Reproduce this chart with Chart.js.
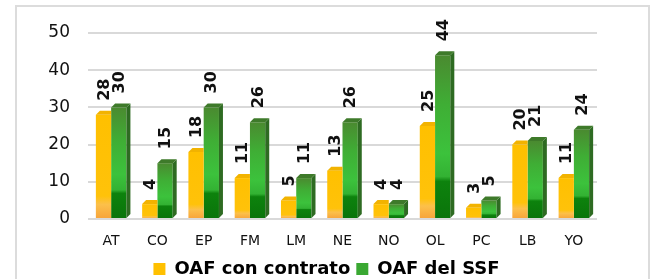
<!DOCTYPE html>
<html>
<head>
<meta charset="utf-8">
<script src="https://cdn.jsdelivr.net/npm/chart.js@4/dist/chart.umd.min.js"></script>
<style>
    html, body { margin: 0; padding: 0; background: #fff; }
    #wrap { position: relative; width: 653px; height: 279px; }
</style>
</head>
<body>
<div id="wrap"><canvas id="chart" width="653" height="279"></canvas></div>
<script>
// dati
const categorie = ['AT', 'CO', 'EP', 'FM', 'LM', 'NE', 'NO', 'OL', 'PC', 'LB', 'YO'];
const conContratto = [28, 4, 18, 11, 5, 13, 4, 25, 3, 20, 11];
const delSSF = [30, 15, 30, 26, 11, 26, 4, 44, 5, 21, 24];
const tickY = [0, 10, 20, 30, 40, 50];

const FONT = '"DejaVu Sans", "Noto Sans", sans-serif';
const DEPTH = 4;

// gradiente per ogni barra (effetto 3D)
const barGradient = (ctx, stops) => {
    const chart = ctx.chart;
    if (!chart.chartArea || ctx.type !== 'data') return stops[0][1];
    const y = chart.scales.y;
    const top = y.getPixelForValue(ctx.parsed.y);
    const base = y.getPixelForValue(0);
    if (base - top < 1) return stops[0][1];
    const g = chart.ctx.createLinearGradient(0, top, 0, base);
    stops.forEach(s => g.addColorStop(s[0], s[1]));
    return g;
};

const yellowStops = [[0, '#ffc000'], [0.78, '#ffc20a'], [0.86, '#fcc04a'], [1, '#f7a33a']];
const greenStops = [[0, '#4a8a30'], [0.3, '#3fae35'], [0.6, '#3cc23c'], [0.74, '#33b233'], [0.77, '#0d820d'], [1, '#0a740a']];

const poly = (c, pts, color) => {
    c.fillStyle = color;
    c.beginPath();
    pts.forEach((p, i) => i ? c.lineTo(p[0], p[1]) : c.moveTo(p[0], p[1]));
    c.closePath();
    c.fill();
};

// facce laterali/superiori ed etichette
const bar3d = {
    id: 'bar3d',
    afterDatasetsDraw(chart) {
        const c = chart.ctx;
        c.save();
        // gialle: solo la faccia superiore, fino al bordo destro
        chart.getDatasetMeta(0).data.forEach(bar => {
            const w = bar.width / 2;
            poly(c, [[bar.x - w, bar.y], [bar.x - w + DEPTH, bar.y - DEPTH], [bar.x + w, bar.y - DEPTH], [bar.x + w, bar.y]], '#f2b300');
        });
        // verdi: faccia laterale e superiore
        chart.getDatasetMeta(1).data.forEach(bar => {
            const w = bar.width / 2;
            poly(c, [[bar.x + w, bar.y], [bar.x + w + DEPTH, bar.y - DEPTH], [bar.x + w + DEPTH, bar.base - DEPTH], [bar.x + w, bar.base]], '#2e6b22');
            poly(c, [[bar.x - w, bar.y], [bar.x - w + DEPTH, bar.y - DEPTH], [bar.x + w + DEPTH, bar.y - DEPTH], [bar.x + w, bar.y]], '#3e7a2a');
        });

        c.font = 'bold 16px ' + FONT;
        c.fillStyle = '#111';
        c.textAlign = 'left';
        c.textBaseline = 'middle';
        chart.data.datasets.forEach((ds, i) => {
            chart.getDatasetMeta(i).data.forEach((bar, j) => {
                c.save();
                c.translate(bar.x + 1, bar.y - 14);
                c.rotate(-Math.PI / 2);
                c.fillText(String(ds.data[j]), 0, 0);
                c.restore();
            });
        });
        c.restore();
    },
    beforeDraw(chart) {
        const c = chart.ctx;
        c.save();
        c.fillStyle = '#fff';
        c.fillRect(0, 0, chart.width, chart.height);
        c.strokeStyle = '#dcdcdc';
        c.lineWidth = 2;
        c.strokeRect(16, 6, 633, 290);
        c.restore();
    }
};

new Chart(document.getElementById('chart'), {
    type: 'bar',
    data: {
        labels: categorie,
        datasets: [{
            label: 'OAF con contrato',
            data: conContratto,
            backgroundColor: ctx => barGradient(ctx, yellowStops),
            borderWidth: 0
        }, {
            label: 'OAF del SSF',
            data: delSSF,
            backgroundColor: ctx => barGradient(ctx, greenStops),
            borderWidth: 0
        }]
    },
    options: {
        responsive: false,
        animation: false,
        layout: { padding: { top: 33, right: 0, left: 0, bottom: -9 } },
        datasets: { bar: { categoryPercentage: 0.66, barPercentage: 1 } },
        plugins: {
            tooltip: { enabled: false },
            legend: {
                position: 'bottom',
                labels: {
                    color: '#111',
                    font: { family: FONT, size: 18, weight: 'bold' },
                    boxWidth: 12,
                    boxHeight: 12,
                    padding: 6,
                    generateLabels: chart => chart.data.datasets.map((ds, i) => ({
                        text: ds.label,
                        fillStyle: i === 0 ? '#ffc000' : '#3aa832',
                        strokeStyle: 'transparent',
                        lineWidth: 0,
                        datasetIndex: i
                    }))
                }
            }
        },
        scales: {
            x: {
                grid: { display: false },
                border: { display: false },
                ticks: { color: '#111', font: { family: FONT, size: 14 }, padding: 6 },
                afterFit: s => { s.height = 35; }
            },
            y: {
                min: 0,
                max: 50,
                afterBuildTicks: s => { s.ticks = tickY.map(v => ({ value: v })); },
                grid: { color: '#d9d9d9', lineWidth: 2, drawTicks: false },
                border: { display: false },
                ticks: { color: '#111', font: { family: FONT, size: 17 }, padding: 18 },
                afterFit: s => { s.width = 88; }
            },
            // asse vuoto a destra, solo per lo spazio
            y2: {
                position: 'right',
                min: 0,
                max: 50,
                grid: { display: false },
                border: { display: false },
                ticks: { display: false },
                afterFit: s => { s.width = 56; }
            }
        }
    },
    plugins: [bar3d]
});
</script>
</body>
</html>
